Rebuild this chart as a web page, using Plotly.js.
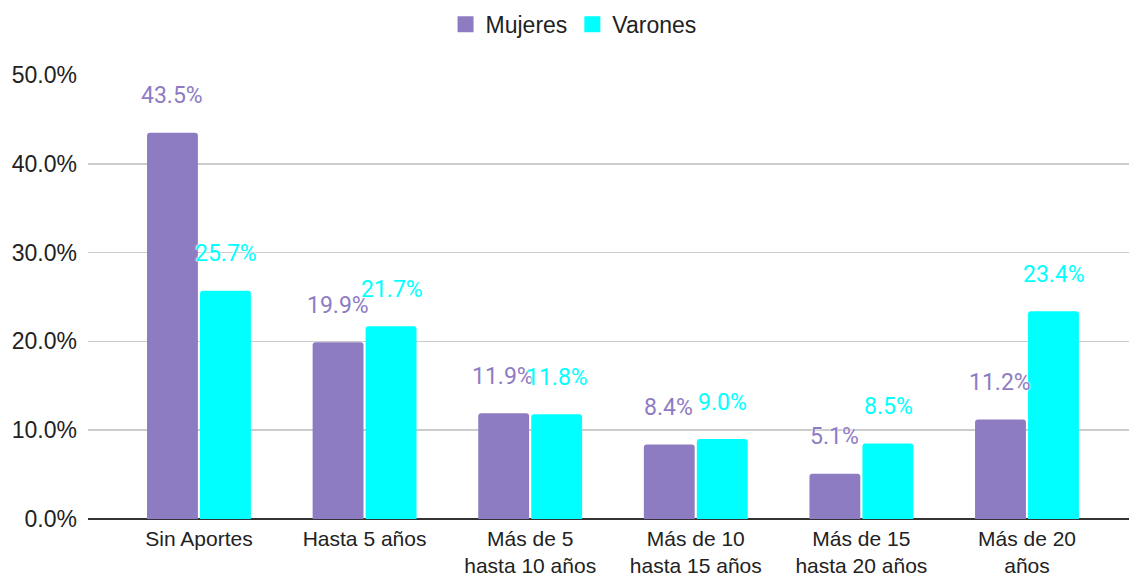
<!DOCTYPE html>
<html>
<head>
<meta charset="utf-8">
<script src="https://cdn.plot.ly/plotly-3.0.1.min.js"></script>
<style>html,body{margin:0;padding:0;background:#fff;}#chart{width:1129px;height:576px;}</style>
</head>
<body>
<div id="chart"></div>
<script>
const categories = ["Sin Aportes", "Hasta 5 años", "Más de 5<br>hasta 10 años", "Más de 10<br>hasta 15 años", "Más de 15<br>hasta 20 años", "Más de 20<br>años"];
const mujeres = [43.5, 19.9, 11.9, 8.4, 5.1, 11.2];
const varones = [25.7, 21.7, 11.8, 9.0, 8.5, 23.4];
const seriesNames = ["Mujeres", "Varones"];
const colors = ["#8e7cc3", "#00ffff"];

const traces = [mujeres, varones].map((vals, i) => ({
  type: 'bar',
  name: seriesNames[i],
  x: categories,
  y: vals,
  marker: {color: colors[i], cornerradius: 3},
  showlegend: false,
  hoverinfo: 'skip'
}));

// legend entries with larger square swatches
seriesNames.forEach((n, i) => {
  traces.push({
    type: 'scatter', mode: 'markers', name: n,
    x: [null], y: [null],
    marker: {symbol: 'square', size: 16, color: colors[i]},
    showlegend: true, hoverinfo: 'skip'
  });
});

const annotations = [];
[mujeres, varones].forEach((vals, i) => {
  vals.forEach((v, j) => {
    annotations.push({
      x: categories[j], y: v, xref: 'x', yref: 'y',
      text: v.toFixed(1) + '%',
      showarrow: false,
      xshift: i === 0 ? -27 : 27,
      yshift: 37,
      font: {family: 'Roboto', size: 23, color: colors[i], shadow: '0 0 2px #fff, 0 0 2px #fff'}
    });
  });
});

const layout = {
  width: 1129, height: 576,
  margin: {l: 88, r: 0, t: 75, b: 57},
  paper_bgcolor: '#fff', plot_bgcolor: '#fff',
  barmode: 'group',
  bargap: 0.36,
  bargroupgap: 0.04,
  font: {family: 'Liberation Sans, Arial, sans-serif', size: 22, color: '#222'},
  showlegend: true,
  legend: {orientation: 'h', xref: 'container', x: 0.508, xanchor: 'center', y: 0.995, yref: 'container', yanchor: 'top',
           font: {size: 23, color: '#222'}, itemwidth: 30, itemsizing: 'trace', traceorder: 'normal'},
  xaxis: {
    type: 'category', range: [-0.67, 5.616], fixedrange: true,
    showgrid: false, zeroline: false, showline: false,
    ticks: '', ticklabelstandoff: 5, tickfont: {size: 21, color: '#222'}
  },
  yaxis: {
    range: [0, 50], dtick: 10, tickformat: '.1f', ticksuffix: '%',
    showgrid: true, gridcolor: '#cccccc', gridwidth: 1.5,
    zeroline: true, zerolinecolor: '#333', zerolinewidth: 1.5,
    showline: false, ticks: '', ticklabelstandoff: 10,
    tickfont: {size: 23, color: '#222'}
  },
  annotations: annotations
};

Plotly.newPlot('chart', traces, layout, {displayModeBar: false, staticPlot: true});
</script>
</body>
</html>
